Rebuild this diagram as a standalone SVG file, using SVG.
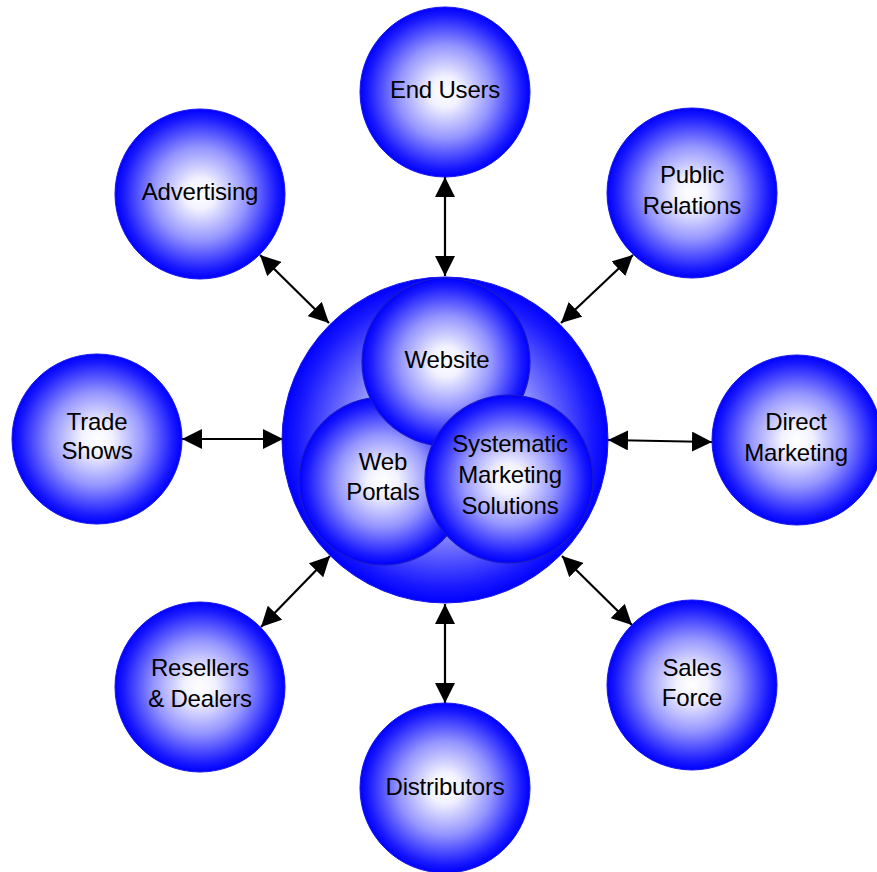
<svg xmlns="http://www.w3.org/2000/svg" width="877" height="872" viewBox="0 0 877 872">
  <style>
    .ball { fill: url(#glow); stroke: #1414f0; stroke-width: 1; }
    .inner { fill: url(#glow); stroke: #1a1ac8; stroke-width: 1.2; }
    .lbl { font-family: "Liberation Sans", Arial, sans-serif; font-size: 24px; fill: #000; text-anchor: middle; letter-spacing: -0.2px; }
    .link { stroke: #000; stroke-width: 2.2; fill: none; marker-start: url(#head); marker-end: url(#head); }
  </style>
  <defs>
    <radialGradient id="glow" cx="0.5" cy="0.5" r="0.5">
      <stop offset="0" stop-color="#ffffff"/>
      <stop offset="0.18" stop-color="#f2f2ff"/>
      <stop offset="0.55" stop-color="#9494ff"/>
      <stop offset="0.9" stop-color="#1a1aff"/>
      <stop offset="1" stop-color="#0000ff"/>
    </radialGradient>
    <marker id="head" viewBox="0 0 20 20" refX="20" refY="10" markerWidth="20" markerHeight="20" markerUnits="userSpaceOnUse" orient="auto-start-reverse">
      <path d="M0,0 L20,10 L0,20 Z" fill="#000"/>
    </marker>
  </defs>

  <!-- connectors -->
  <g id="connectors">
    <line class="link" x1="445" y1="177" x2="445" y2="276"/>
    <line class="link" x1="260" y1="255" x2="329" y2="323"/>
    <line class="link" x1="633" y1="255" x2="561" y2="323"/>
    <line class="link" x1="182" y1="439" x2="283" y2="439"/>
    <line class="link" x1="608" y1="440" x2="712" y2="442"/>
    <line class="link" x1="261" y1="627" x2="330" y2="556"/>
    <line class="link" x1="632" y1="625" x2="562" y2="556"/>
    <line class="link" x1="445" y1="604" x2="445" y2="703"/>
  </g>

  <!-- central cluster -->
  <g id="hub">
    <circle class="ball" cx="445" cy="440" r="163"/>
  </g>
  <g id="web-portals">
    <circle class="inner" cx="383" cy="481" r="84"/>
    <text class="lbl" x="383" y="470">Web</text>
    <text class="lbl" x="383" y="500">Portals</text>
  </g>
  <g id="website">
    <circle class="inner" cx="446" cy="362" r="84"/>
    <text class="lbl" x="447" y="368">Website</text>
  </g>
  <g id="systematic-marketing">
    <circle class="inner" cx="509" cy="479" r="84"/>
    <text class="lbl" x="510" y="452">Systematic</text>
    <text class="lbl" x="510" y="483">Marketing</text>
    <text class="lbl" x="510" y="514">Solutions</text>
  </g>

  <!-- outer nodes -->
  <g id="end-users">
    <circle class="ball" cx="445" cy="92" r="85"/>
    <text class="lbl" x="445" y="98">End Users</text>
  </g>
  <g id="advertising">
    <circle class="ball" cx="200" cy="194" r="85"/>
    <text class="lbl" x="200" y="200">Advertising</text>
  </g>
  <g id="public-relations">
    <circle class="ball" cx="692" cy="193" r="85"/>
    <text class="lbl" x="692" y="183">Public</text>
    <text class="lbl" x="692" y="214">Relations</text>
  </g>
  <g id="trade-shows">
    <circle class="ball" cx="97" cy="439" r="85"/>
    <text class="lbl" x="97" y="430">Trade</text>
    <text class="lbl" x="97" y="459">Shows</text>
  </g>
  <g id="direct-marketing">
    <circle class="ball" cx="797" cy="440" r="85"/>
    <text class="lbl" x="796" y="430">Direct</text>
    <text class="lbl" x="796" y="461">Marketing</text>
  </g>
  <g id="resellers-dealers">
    <circle class="ball" cx="200" cy="687" r="85"/>
    <text class="lbl" x="200" y="676">Resellers</text>
    <text class="lbl" x="200" y="707">&amp; Dealers</text>
  </g>
  <g id="sales-force">
    <circle class="ball" cx="692" cy="685" r="85"/>
    <text class="lbl" x="692" y="676">Sales</text>
    <text class="lbl" x="692" y="706">Force</text>
  </g>
  <g id="distributors">
    <circle class="ball" cx="445" cy="788" r="85"/>
    <text class="lbl" x="445" y="795">Distributors</text>
  </g>
</svg>
